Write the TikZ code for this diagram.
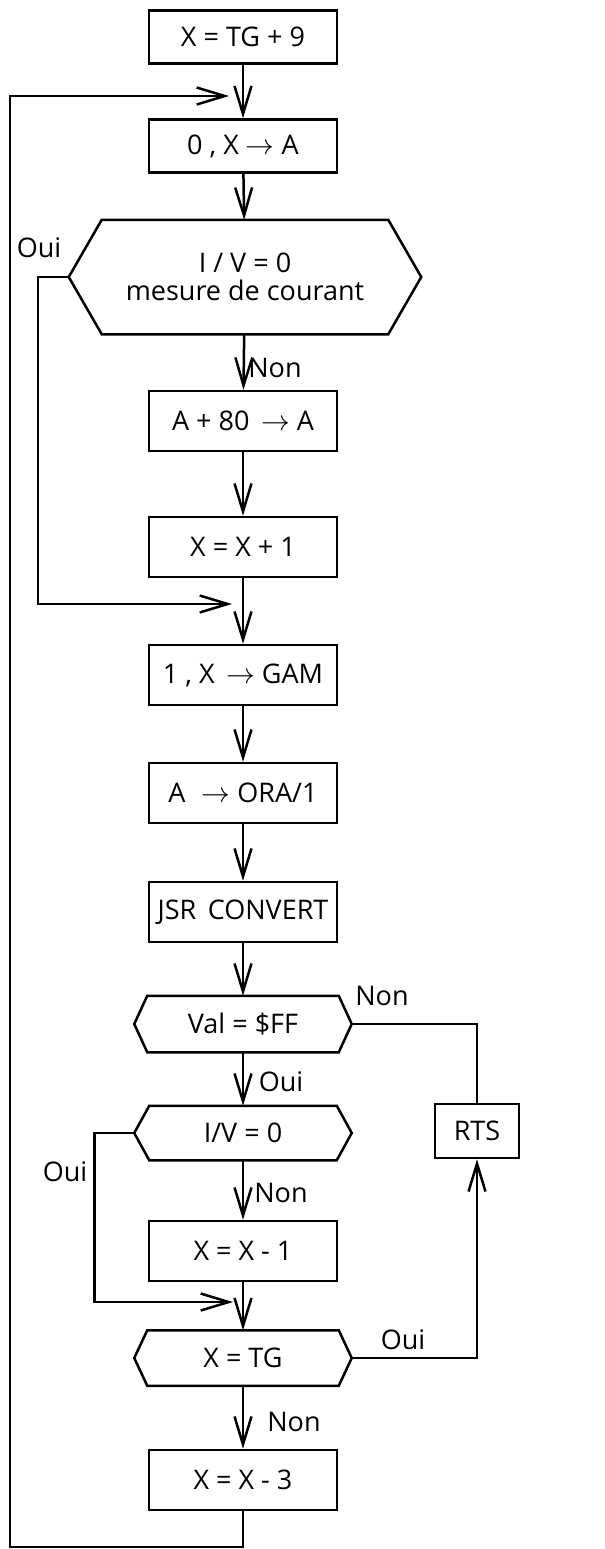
\documentclass[tikz,border=0pt]{standalone}
\usepackage{fontspec}
\setmainfont{Open Sans}
\usetikzlibrary{arrows.meta,positioning}

\begin{document}
\begin{tikzpicture}[x=0.5pt,y=-0.5pt,line width=1.25pt,font=\fontsize{13.5}{14}\selectfont,
    proc/.style={draw,minimum width=94pt,minimum height=30pt,inner sep=2pt},
    cond/.style={minimum width=107.5pt,minimum height=27pt,inner sep=2pt},
    flow/.style={-{Straight Barb[length=14pt,width=8.5pt]}}]
        \useasboundingbox (0,0) rectangle (605,1549);
        % main column
        \node[proc,minimum height=26.5pt] (init) at (243,37) {X = TG + 9};
        \node[proc,minimum height=26.5pt] (clr) at (243,146) {0 , X $\rightarrow$ A};
        \node[cond,minimum width=175pt,minimum height=56pt,align=center] (iv1) at (245,277) {I / V = 0\\mesure de courant};
        \node[proc] (add) at (243,421) {A + 80 \,$\rightarrow$ A};
        \node[proc] (inc) at (243,547) {X = X + 1};
        \node[proc] (gam) at (243,675) {1 , X \,$\rightarrow$ GAM};
        \node[proc] (ora) at (243,793) {A \,\,$\rightarrow$ ORA/1};
        \node[proc] (conv) at (243,912) {JSR\, CONVERT};
        \node[cond] (val) at (243,1024) {Val = \$FF};
        \node[cond,minimum height=26pt] (iv2) at (243,1133) {I/V = 0};
        \node[proc] (dec) at (243,1251) {X = X - 1};
        \node[cond,minimum height=26.5pt] (tg) at (243,1358) {X = TG};
        \node[proc] (sub) at (243,1480) {X = X - 3};
        \node[draw,minimum width=42pt,minimum height=27pt] (rts) at (477,1131) {RTS};
        \foreach \h/\d in {iv1/33,val/13,iv2/15,tg/13}{\draw (\h.west) -- ([shift={(\d,0)}]\h.north west) -- ([shift={(-\d,0)}]\h.north east) -- (\h.east) -- ([shift={(-\d,0)}]\h.south east) -- ([shift={(\d,0)}]\h.south west) -- cycle;}
        % junctions
        \coordinate (j1) at (229,96);
        \coordinate (j2) at (232,604);
        \coordinate (j3) at (233,1302);
        \coordinate (lp) at (10,1547);
        \foreach \a/\b in {init/clr,clr/iv1,iv1/add,add/inc,inc/gam,gam/ora,ora/conv,conv/val,val/iv2,iv2/dec,dec/tg,tg/sub}{\draw[flow] (\a) -- (\b);}
        \draw[flow] (iv1.west) -- ++(-31,0) |- (j2);
        \draw[flow] (iv2.west) -- ++(-40,0) |- (j3);
        \draw (val.east) -| (rts.north);
        \draw[flow] (tg.east) -| (rts.south);
        \draw[flow] (sub.south) |- (lp) |- (j1);
        % labels
        \node at (39,248) {Oui};
        \node at (275,368) {Non};
        \node at (382,996) {Non};
        \node at (281,1082) {Oui};
        \node at (65,1172) {Oui};
        \node at (281,1193) {Non};
        \node at (403,1340) {Oui};
        \node at (294,1422) {Non};
      \end{tikzpicture}
\end{document}
